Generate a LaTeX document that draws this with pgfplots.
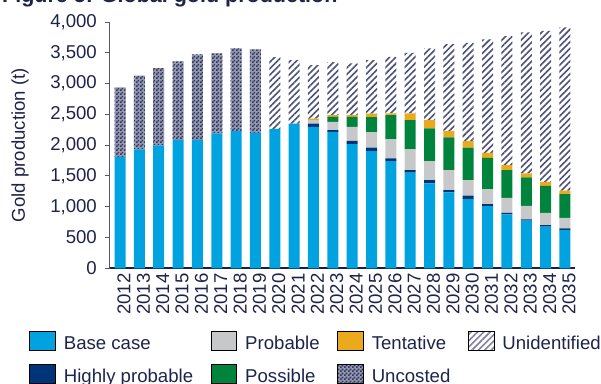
\documentclass[border=0pt]{standalone}
\usepackage{pgfplots}
\pgfplotsset{compat=1.18}
\usepackage{pgfplotstable}
\usepackage{fontspec}
\setmainfont{Liberation Sans}
\usetikzlibrary{patterns,patterns.meta}

\definecolor{basec}{RGB}{0,163,224}
\definecolor{hpc}{RGB}{0,52,120}
\definecolor{probc}{RGB}{199,200,202}
\definecolor{possc}{RGB}{0,132,61}
\definecolor{tentc}{RGB}{234,170,27}
\definecolor{patc}{RGB}{45,52,95}
\definecolor{txt}{RGB}{30,35,75}
\definecolor{axc}{RGB}{25,30,75}

\pgfdeclarepatternformonly{checker}{\pgfpointorigin}{\pgfqpoint{4pt}{4pt}}{\pgfqpoint{4pt}{4pt}}{%
 \pgfpathrectangle{\pgfpointorigin}{\pgfqpoint{2pt}{2pt}}%
 \pgfpathrectangle{\pgfqpoint{2pt}{2pt}}{\pgfqpoint{2pt}{2pt}}%
 \pgfusepath{fill}}

\newcommand\cf{\fontsize{18.6pt}{22pt}\selectfont}

\pgfplotstableread{
i base hp prob poss tent unid unc
0  1810 0 0 0 0 0 1130
1  1930 0 0 0 0 0 1200
2  1995 0 0 0 0 0 1255
3  2085 0 0 0 0 0 1275
4  2085 0 0 0 0 0 1390
5  2190 0 0 0 0 0 1300
6  2230 0 0 0 0 0 1340
7  2200 0 0 0 0 0 1355
8  2265 0 0 0 0 1165 0
9  2350 0 0 0 0 1030 0
10 2295 55 55 0 25 870 0
11 2215 30 135 80 27 863 0
12 2017 54 227 162 27 840 0
13 1904 54 250 248 55 870 0
14 1741 44 313 390 27 919 0
15 1552 44 336 476 109 983 0
16 1380 54 308 531 135 1163 0
17 1233 37 325 531 102 1412 0
18 1125 54 255 524 109 1595 0
19 1011 32 243 508 81 1842 0
20 876 26 243 450 81 2094 0
21 773 23 216 466 65 2287 0
22 675 27 200 438 65 2452 0
23 622 27 172 385 54 2651 0
}\data

\begin{document}
\begin{tikzpicture}
\begin{axis}[name=ax, at={(0,0)}, anchor=south west,
  scale only axis, width=465pt, height=246.3pt,
  ybar stacked, bar width=11pt,
  /pgfplots/ybar legend/.style={/pgfplots/legend image code/.code={\fill[##1] (0pt,-6.3pt) rectangle (25.7pt,12.4pt);}},
  leg/.style={legend image code/.code={\fill[##1] (0pt,-6.3pt) rectangle (25.7pt,12.4pt);}},
  xmin=-0.52, xmax=23.52, ymin=0, ymax=4000,
  axis x line*=bottom, axis y line*=left,
  axis line style={-},
  x axis line style={-, draw=axc, line width=2pt},
  y axis line style={-, draw=axc!75, line width=1pt},
  tick align=outside, major tick length=5pt,
  xtick={0,...,23},
  xticklabels={2012,2013,2014,2015,2016,2017,2018,2019,2020,2021,2022,2023,2024,2025,2026,2027,2028,2029,2030,2031,2032,2033,2034,2035},
  xtick style={draw=none},
  ytick={0,500,...,4000},
  ytick style={draw=axc!75, line width=1pt},
  scaled y ticks=false,
  /pgf/number format/1000 sep={,},
  /pgf/number format/assume math mode=true,
  tick label style={font=\cf, text=txt},
  xticklabel style={rotate=90, anchor=east, inner sep=0pt, yshift=-4pt},
  yticklabel style={inner sep=0pt, anchor=east, xshift=-8pt},
  ylabel={Gold production (t)},
  ylabel style={font=\cf, text=txt, at={(axis description cs:-0.1935,0.5)}, anchor=center},
  legend style={draw=none, fill=none, at={(axis description cs:-0.17355,-0.2546)}, anchor=north west,
    inner sep=0pt, outer sep=0pt, font=\cf, text=txt, row sep=12.9pt,
    nodes={inner sep=0pt},
    /tikz/every odd column/.append style={column sep=8.5pt},
    /tikz/every even column/.append style={column sep=17.5pt}},
  legend cell align=left,
  legend columns=4,
]
\addlegendimage{leg, fill=basec}
\addlegendimage{leg, fill=probc}
\addlegendimage{leg, fill=tentc}
\addlegendimage{leg, pattern={Lines[angle=45,distance=4.5pt,line width=1.6pt]}, pattern color=patc!60}
\addlegendimage{leg, fill=hpc}
\addlegendimage{leg, fill=possc}
\addlegendimage{leg, fill=patc!50, postaction={pattern=checker, pattern color=patc}}

\addplot[fill=basec, draw=none] table[x=i, y=base] {\data};
\addplot[fill=hpc, draw=none] table[x=i, y=hp] {\data};
\addplot[fill=probc, draw=none] table[x=i, y=prob] {\data};
\addplot[fill=possc, draw=none] table[x=i, y=poss] {\data};
\addplot[fill=tentc, draw=none] table[x=i, y=tent] {\data};
\addplot[draw=none, pattern={Lines[angle=45,distance=4.5pt,line width=1.6pt]}, pattern color=patc!85] table[x=i, y=unid] {\data};
\addplot[draw=none, fill=patc!50, postaction={pattern=checker, pattern color=patc}] table[x=i, y=unc] {\data};

\legend{Base case, Probable, Tentative, Unidentified, Highly probable, Possible, Uncosted}
\end{axis}
\node[anchor=base west, inner sep=0pt, font=\fontsize{21.5pt}{24pt}\selectfont\bfseries, text=txt] at ([shift={(-108pt,265.8pt)}]ax.south west) {Figure 5: Global gold production};
\pgfresetboundingbox
\path[use as bounding box] ([shift={(-110pt,-114.7pt)}]ax.south west) rectangle ([shift={(491pt,268.3pt)}]ax.south west);
\end{tikzpicture}
\end{document}
